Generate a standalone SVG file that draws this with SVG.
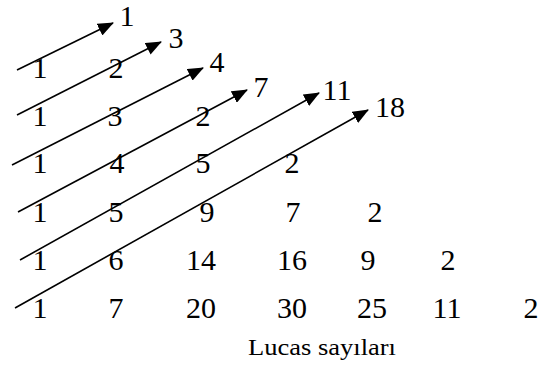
<svg xmlns="http://www.w3.org/2000/svg" width="540" height="365" viewBox="0 0 540 365">
<style>
  text { font-family: "Liberation Serif", "Times New Roman", Times, "DejaVu Serif", serif; font-size: 30px; fill: #000; text-anchor: middle; }
  .lbl { font-size: 24px; }
  .arrow { stroke: #000; stroke-width: 1.6; fill: none; marker-end: url(#ah); }
</style>
<defs>
  <marker id="ah" markerUnits="userSpaceOnUse" markerWidth="16" markerHeight="13" viewBox="0 0 16 13" refX="15" refY="6.5" orient="auto">
    <path d="M0,0 L16,6.5 L0,13 z" fill="#000"/>
  </marker>
</defs>
<rect width="540" height="365" fill="#fff"/>
<g id="connectors">
  <line class="arrow" x1="17" y1="70" x2="113" y2="23"/>
  <line class="arrow" x1="17" y1="115" x2="161" y2="42"/>
  <line class="arrow" x1="12" y1="165" x2="203" y2="68"/>
  <line class="arrow" x1="18" y1="212" x2="247" y2="90"/>
  <line class="arrow" x1="20" y1="260" x2="319" y2="93"/>
  <line class="arrow" x1="15" y1="308" x2="368" y2="110"/>
</g>
<g id="sums" font-family="Liberation Serif, serif">
  <g id="s1"><text x="127" y="26">1</text></g>
  <g id="s2"><text x="176" y="48">3</text></g>
  <g id="s3"><text x="217" y="72">4</text></g>
  <g id="s4"><text x="261" y="97">7</text></g>
  <g id="s5"><text x="337" y="100">11</text></g>
  <g id="s6"><text x="390" y="117">18</text></g>
</g>
<g id="row1">
  <g id="r1c0"><text x="40" y="78">1</text></g>
  <g id="r1c1"><text x="116" y="78">2</text></g>
</g>
<g id="row2">
  <g id="r2c0"><text x="40" y="126">1</text></g>
  <g id="r2c1"><text x="115" y="126">3</text></g>
  <g id="r2c2"><text x="203" y="126">2</text></g>
</g>
<g id="row3">
  <g id="r3c0"><text x="40" y="173">1</text></g>
  <g id="r3c1"><text x="117" y="173">4</text></g>
  <g id="r3c2"><text x="203" y="173">5</text></g>
  <g id="r3c3"><text x="292" y="173">2</text></g>
</g>
<g id="row4">
  <g id="r4c0"><text x="40" y="222">1</text></g>
  <g id="r4c1"><text x="116" y="222">5</text></g>
  <g id="r4c2"><text x="207" y="222">9</text></g>
  <g id="r4c3"><text x="293" y="222">7</text></g>
  <g id="r4c4"><text x="375" y="222">2</text></g>
</g>
<g id="row5">
  <g id="r5c0"><text x="40" y="270">1</text></g>
  <g id="r5c1"><text x="116" y="270">6</text></g>
  <g id="r5c2"><text x="201" y="270">14</text></g>
  <g id="r5c3"><text x="292" y="270">16</text></g>
  <g id="r5c4"><text x="368" y="270">9</text></g>
  <g id="r5c5"><text x="448" y="270">2</text></g>
</g>
<g id="row6">
  <g id="r6c0"><text x="40" y="318">1</text></g>
  <g id="r6c1"><text x="116" y="318">7</text></g>
  <g id="r6c2"><text x="201" y="318">20</text></g>
  <g id="r6c3"><text x="292" y="318">30</text></g>
  <g id="r6c4"><text x="372" y="318">25</text></g>
  <g id="r6c5"><text x="447" y="318">11</text></g>
  <g id="r6c6"><text x="531" y="318">2</text></g>
</g>
<g id="caption">
  <text class="lbl" x="322" y="355" textLength="148" lengthAdjust="spacingAndGlyphs">Lucas sayıları</text>
</g>
</svg>
